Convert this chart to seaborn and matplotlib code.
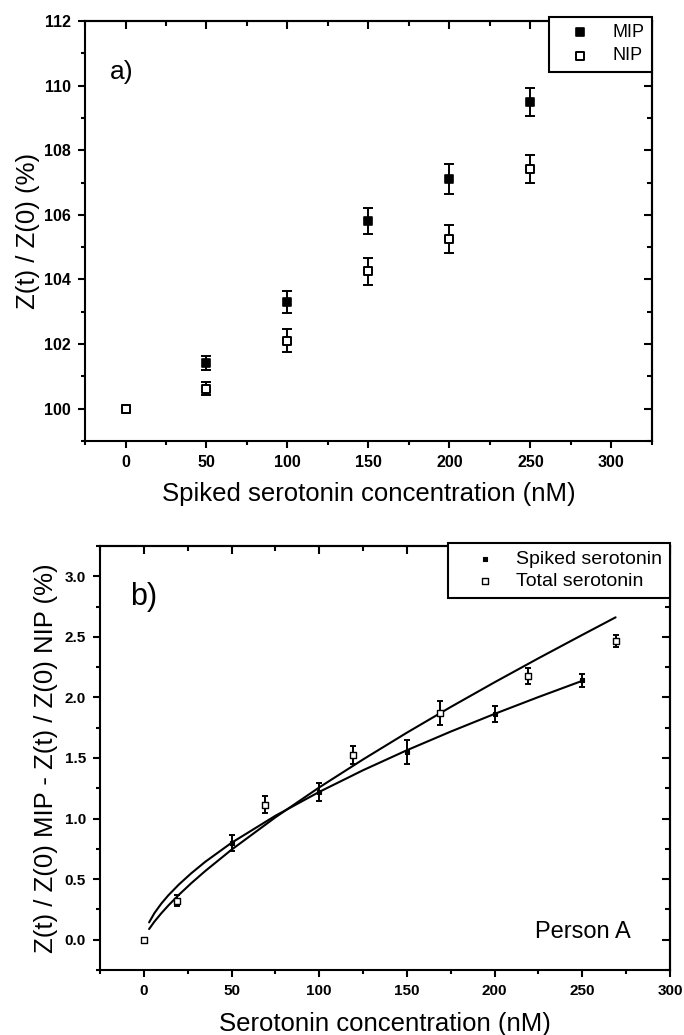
import numpy as np
import matplotlib
matplotlib.use("Agg")
import matplotlib.pyplot as plt
from matplotlib.ticker import MultipleLocator
import seaborn as sns

# ---- panel a: impedance ratio vs spiked concentration ----
conc_a = [0, 50, 100, 150, 200, 250]
mip_val = [100.0, 101.42, 103.30, 105.81, 107.10, 109.49]
mip_err = [0.0, 0.21, 0.33, 0.41, 0.46, 0.43]
nip_val = [100.0, 100.62, 102.11, 104.25, 105.25, 107.41]
nip_err = [0.0, 0.20, 0.36, 0.42, 0.44, 0.43]

# ---- panel b: MIP - NIP difference, person A ----
spiked_x = [0, 50, 100, 150, 200, 250]
spiked_y = [0.0, 0.80, 1.22, 1.55, 1.86, 2.14]
spiked_err = [0.0, 0.065, 0.075, 0.10, 0.065, 0.05]
total_x = [0, 19, 69, 119, 169, 219, 269]
total_y = [0.0, 0.32, 1.115, 1.525, 1.87, 2.175, 2.465]
total_err = [0.0, 0.045, 0.07, 0.075, 0.10, 0.065, 0.05]

# fitted curves
fit_spiked_x = [3, 6, 10, 14, 20, 27, 35, 50, 75, 100, 125, 150, 175, 200, 225, 250]
fit_spiked_y = [0.143, 0.219, 0.299, 0.367, 0.456, 0.548, 0.643, 0.80, 1.023,
                1.22, 1.399, 1.564, 1.718, 1.864, 2.003, 2.137]
fit_total_x = [3, 6, 10, 14, 20, 27, 35, 50, 75, 100, 125, 150, 175, 200, 225, 250, 269]
fit_total_y = [0.088, 0.149, 0.219, 0.283, 0.371, 0.466, 0.567, 0.743, 1.010,
               1.257, 1.488, 1.709, 1.921, 2.125, 2.323, 2.516, 2.661]

sns.set_theme(style="ticks")
plt.rcParams['font.family'] = ['Liberation Sans', 'DejaVu Sans']
plt.rcParams.update({'axes.linewidth': 1.5, 'text.color': 'black',
                     'axes.labelcolor': 'black', 'xtick.color': 'black',
                     'ytick.color': 'black', 'axes.edgecolor': 'black'})


def origin_axes(ax, xmaj, ymaj, tick_size):
    """Origin-like frame: outward ticks bottom/left, inward mirrored ticks top/right."""
    ax.xaxis.set_major_locator(MultipleLocator(xmaj))
    ax.xaxis.set_minor_locator(MultipleLocator(xmaj / 2))
    ax.yaxis.set_major_locator(MultipleLocator(ymaj))
    ax.yaxis.set_minor_locator(MultipleLocator(ymaj / 2))
    ax.tick_params(which='both', direction='out', width=1.5, color='black',
                   top=False, right=False, labelsize=tick_size, labelcolor='black')
    ax.tick_params(which='major', length=5, pad=5)
    ax.tick_params(which='minor', length=3)
    for lbl in ax.get_xticklabels() + ax.get_yticklabels():
        lbl.set_fontweight('bold')
    for s in ax.spines.values():
        s.set_visible(True)
        s.set_color('black')
        s.set_linewidth(1.5)

    top = ax.secondary_xaxis('top')
    top.xaxis.set_major_locator(MultipleLocator(xmaj))
    top.xaxis.set_minor_locator(MultipleLocator(xmaj / 2))
    top.tick_params(which='both', direction='in', width=1.5, labeltop=False)
    top.tick_params(which='major', length=6)
    top.tick_params(which='minor', length=3.5)
    right = ax.secondary_yaxis('right')
    right.yaxis.set_major_locator(MultipleLocator(ymaj))
    right.yaxis.set_minor_locator(MultipleLocator(ymaj / 2))
    right.tick_params(which='both', direction='in', width=1.5, labelright=False)
    right.tick_params(which='major', length=6)
    right.tick_params(which='minor', length=3.5)


def draw_errors(ax, x, y, err, capsize, lw):
    x = np.asarray(x); y = np.asarray(y); err = np.asarray(err)
    keep = err > 0
    ax.errorbar(x[keep], y[keep], yerr=err[keep], fmt='none', ecolor='black',
                elinewidth=lw, capsize=capsize, capthick=lw, zorder=2)


fig = plt.figure(figsize=(6.84, 10.35), dpi=100)
ax_a = fig.add_axes([0.1243, 0.5739, 0.8287, 0.4058])
ax_b = fig.add_axes([0.1462, 0.0628, 0.8333, 0.4097])

# ---------------- panel a ----------------
draw_errors(ax_a, conc_a, mip_val, mip_err, 3.5, 1.4)
draw_errors(ax_a, conc_a, nip_val, nip_err, 3.5, 1.4)
sns.scatterplot(x=conc_a, y=mip_val, marker='s', s=40, color='black',
                edgecolor='black', linewidth=1.2, label='MIP', ax=ax_a, zorder=3)
sns.scatterplot(x=conc_a, y=nip_val, marker='s', s=40, color='white',
                edgecolor='black', linewidth=1.4, label='NIP', ax=ax_a, zorder=4)
ax_a.set_xlim(-25, 325)
ax_a.set_ylim(99, 112)
origin_axes(ax_a, 50, 2, 11.5)
ax_a.set_xlabel("Spiked serotonin concentration (nM)", fontsize=18.5, labelpad=9)
ax_a.set_ylabel("Z(t) / Z(0) (%)", fontsize=18.5, labelpad=3)
ax_a.text(0.044, 0.879, "a)", transform=ax_a.transAxes, fontsize=19,
          ha='left', va='center')
leg = ax_a.legend(loc='upper right', bbox_to_anchor=(1.0, 1.01), fontsize=13,
                  frameon=True, fancybox=False, edgecolor='black', framealpha=1,
                  handlelength=2.6, handletextpad=0.5, borderpad=0.4,
                  labelspacing=0.35, borderaxespad=0)
leg.get_frame().set_linewidth(1.5)
leg.set_zorder(10)

# ---------------- panel b ----------------
sns.lineplot(x=fit_spiked_x, y=fit_spiked_y, color='black', lw=1.5, sort=False,
             estimator=None, legend=False, ax=ax_b, zorder=1)
sns.lineplot(x=fit_total_x, y=fit_total_y, color='black', lw=1.5, sort=False,
             estimator=None, legend=False, ax=ax_b, zorder=1)
draw_errors(ax_b, spiked_x, spiked_y, spiked_err, 2.5, 1.4)
draw_errors(ax_b, total_x, total_y, total_err, 2.5, 1.4)
sns.scatterplot(x=spiked_x, y=spiked_y, marker='s', s=10, color='black',
                edgecolor='black', linewidth=0.8, label='Spiked serotonin',
                ax=ax_b, zorder=3)
sns.scatterplot(x=total_x, y=total_y, marker='s', s=14, color='white',
                edgecolor='black', linewidth=1.0, label='Total serotonin',
                ax=ax_b, zorder=4)
ax_b.set_xlim(-25, 300)
ax_b.set_ylim(-0.25, 3.25)
origin_axes(ax_b, 50, 0.5, 11)
ax_b.set_xlabel("Serotonin concentration (nM)", fontsize=18.5, labelpad=10)
ax_b.set_ylabel("Z(t) / Z(0) MIP - Z(t) / Z(0) NIP (%)", fontsize=18.5, labelpad=5)
ax_b.text(0.053, 0.88, "b)", transform=ax_b.transAxes, fontsize=22,
          ha='left', va='center')
ax_b.text(0.932, 0.075, "Person A", transform=ax_b.transAxes, fontsize=17,
          ha='right', va='baseline')
leg = ax_b.legend(loc='upper right', bbox_to_anchor=(1.0, 1.007), fontsize=14,
                  frameon=True, fancybox=False, edgecolor='black', framealpha=1,
                  handlelength=3.0, handletextpad=0.1, borderpad=0.4,
                  labelspacing=0.2, borderaxespad=0)
leg.get_frame().set_linewidth(1.5)
leg.set_zorder(10)

fig.savefig("out.png", dpi=100, facecolor='white')
